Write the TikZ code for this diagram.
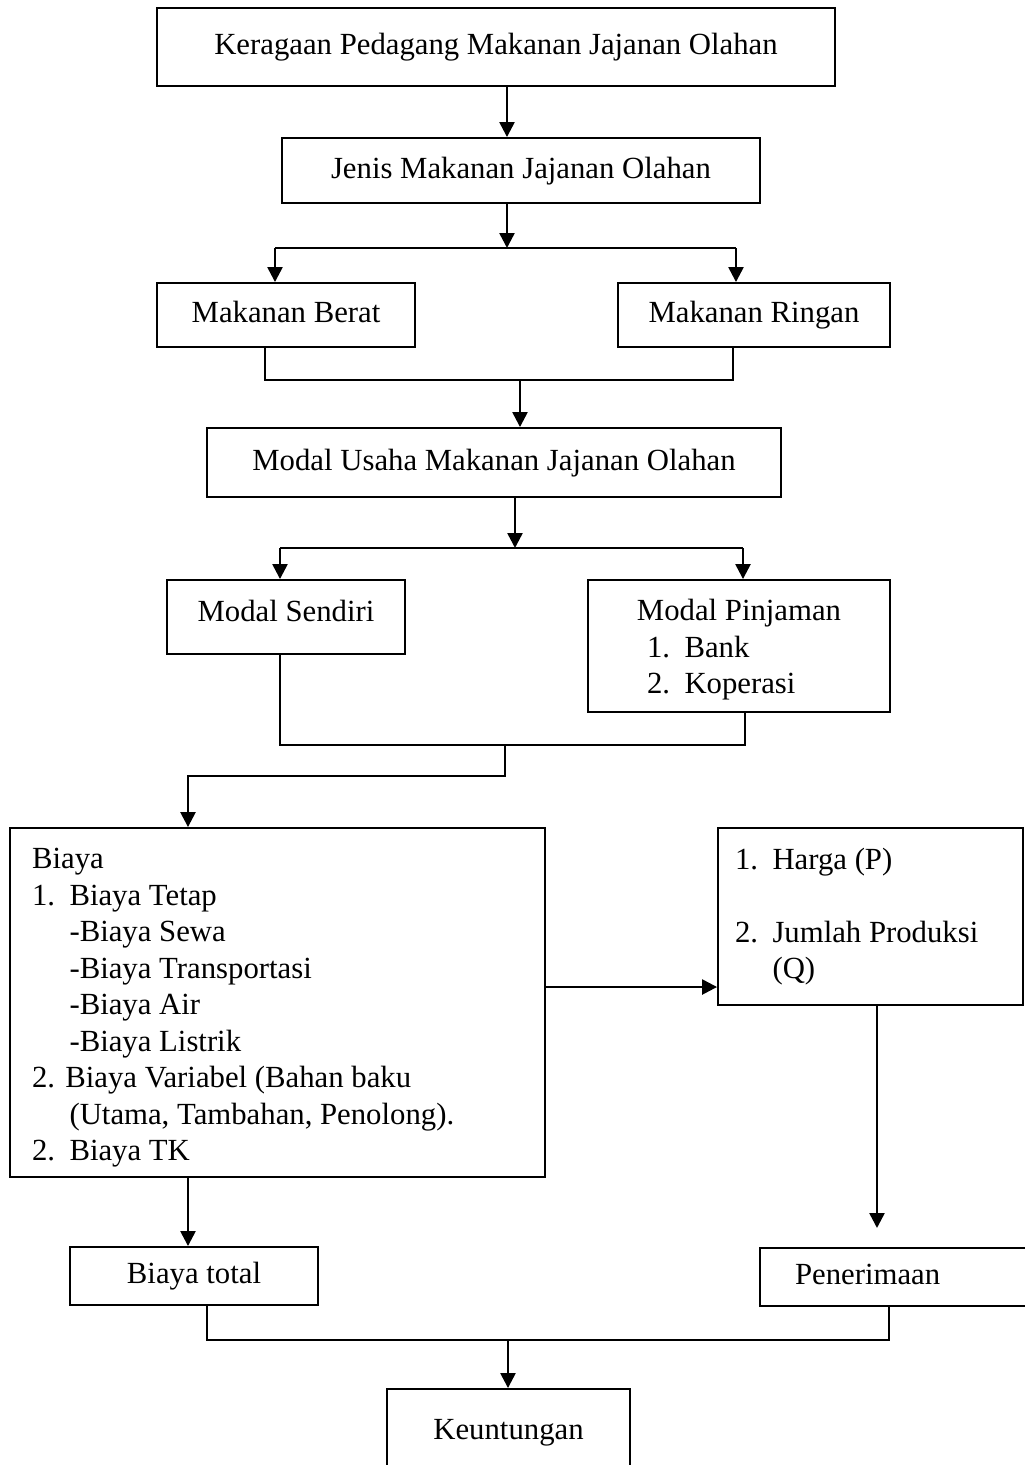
\documentclass[tikz,border=0pt]{standalone}
\usepackage{fontspec}
\setmainfont{Liberation Serif}
\usepackage{tikz}
\usetikzlibrary{arrows.meta, positioning, calc}

\newcommand{\nomor}[1]{\makebox[0.75cm][l]{#1}}

\begin{document}
\begin{tikzpicture}[x=0.02cm, y=-0.02cm,
  kotak/.style={rectangle, draw, line width=1.1pt, inner sep=0pt, font=\fontsize{17.5}{20.8}\selectfont},
  satu/.style={kotak, text height=0.44cm, text depth=0.14cm},
  panah/.style={-{Triangle[length=0.3cm, width=0.3cm]}, line width=1.4pt},
  garis/.style={line width=1.1pt}]

  % Page size
  \fill[white] (0,0) rectangle (1025,1465);
  \useasboundingbox (0,0) rectangle (1025,1465);

  % Boxes
  \node[satu, minimum width=13.56cm, minimum height=1.56cm] (keragaan) at (496,47) {Keragaan Pedagang Makanan Jajanan Olahan};
  \node[satu, minimum width=9.56cm, minimum height=1.3cm] (jenis) at (521,170.5) {Jenis Makanan Jajanan Olahan};
  \node[satu, minimum width=5.16cm, minimum height=1.28cm] (berat) at (286,315) {Makanan Berat};
  \node[satu, minimum width=5.44cm, minimum height=1.28cm] (ringan) at (754,315) {Makanan Ringan};
  \node[satu, minimum width=11.48cm, minimum height=1.38cm] (modal) at (494,462.5) {Modal Usaha Makanan Jajanan Olahan};
  \node[kotak, minimum width=4.76cm, minimum height=1.48cm, text height=0.44cm, text depth=0.28cm] (sendiri) at (286,617) {Modal Sendiri};
  \node[kotak, text width=6.04cm, minimum height=2.64cm, align=flush left] (pinjaman) at (739,646)
    {\rule{0pt}{0.58cm}\makebox[6.04cm]{Modal Pinjaman}\\
     \hspace*{1.18cm}\nomor{1.}Bank\\
     \hspace*{1.18cm}\nomor{2.}Koperasi};
  \node[kotak, text width=9.82cm, inner xsep=0.44cm, minimum height=6.98cm, align=flush left] (biaya) at (277.5,1002.5)
    {\rule{0pt}{0.62cm}Biaya\\
     \nomor{1.}Biaya Tetap\\
     \hspace*{0.75cm}-Biaya Sewa\\
     \hspace*{0.75cm}-Biaya Transportasi\\
     \hspace*{0.75cm}-Biaya Air\\
     \hspace*{0.75cm}-Biaya Listrik\\
     2. Biaya Variabel (Bahan baku\\
     \hspace*{0.75cm}(Utama, Tambahan, Penolong).\\
     \nomor{2.}Biaya TK};
  \node[kotak, text width=5.42cm, inner xsep=0.34cm, minimum height=3.54cm, align=flush left] (harga) at (870.5,916.5)
    {\nomor{1.}Harga (P)\\[20.8pt]
     \nomor{2.}Jumlah Produksi\\
     \hspace*{0.75cm}(Q)};
  \node[satu, minimum width=4.96cm, minimum height=1.16cm] (total) at (194,1276) {Biaya total};
  \node[satu, text width=4.1cm, inner xsep=0.7cm, minimum height=1.16cm, align=flush left] (terima) at (897.5,1277) {Penerimaan};
  \node[satu, minimum width=4.86cm, minimum height=1.7cm] (untung) at (508.5,1431.5) {Keuntungan};

  % Branch and join points
  \coordinate (c1) at (507,248);
  \coordinate (c1a) at (275,248);
  \coordinate (c1b) at (736,248);
  \coordinate (j1a) at (265,380);
  \coordinate (j1b) at (733,380);
  \coordinate (g1) at (520,380);
  \coordinate (c2) at (515,548);
  \coordinate (c2a) at (280,548);
  \coordinate (c2b) at (743,548);
  \coordinate (j2a) at (280,745);
  \coordinate (j2b) at (745,745);
  \coordinate (g2) at (505,745);
  \coordinate (belok) at (188,776);
  \coordinate (sisi) at (545,987);
  \coordinate (ujung) at (877,1228);
  \coordinate (j3a) at (207,1340);
  \coordinate (j3b) at (889,1340);
  \coordinate (g3) at (508,1340);

  % Arrows between boxes
  \draw[panah] (keragaan.south -| c1) -- (jenis.north -| c1);
  \draw[panah] (jenis.south -| c1) -- (c1);
  \draw[garis] (c1a) -- (c1b);
  \draw[panah] (c1a) -- (berat.north -| c1a);
  \draw[panah] (c1b) -- (ringan.north -| c1b);
  \draw[garis] (berat.south -| j1a) -- (j1a) -- (j1b) -- (ringan.south -| j1b);
  \draw[panah] (g1) -- (modal.north -| g1);
  \draw[panah] (modal.south -| c2) -- (c2);
  \draw[garis] (c2a) -- (c2b);
  \draw[panah] (c2a) -- (sendiri.north -| c2a);
  \draw[panah] (c2b) -- (pinjaman.north -| c2b);
  \draw[garis] (sendiri.south -| j2a) -- (j2a) -- (j2b) -- (pinjaman.south -| j2b);
  \draw[panah] (g2) |- (belok) -- (biaya.north -| belok);
  \draw[panah] (biaya.east |- sisi) -- (harga.west |- sisi);
  \draw[panah] (harga.south -| ujung) -- (ujung);
  \draw[panah] (biaya.south -| belok) -- (total.north -| belok);
  \draw[garis] (total.south -| j3a) -- (j3a) -- (j3b) -- (terima.south -| j3b);
  \draw[panah] (g3) -- (untung.north -| g3);
\end{tikzpicture}
\end{document}
